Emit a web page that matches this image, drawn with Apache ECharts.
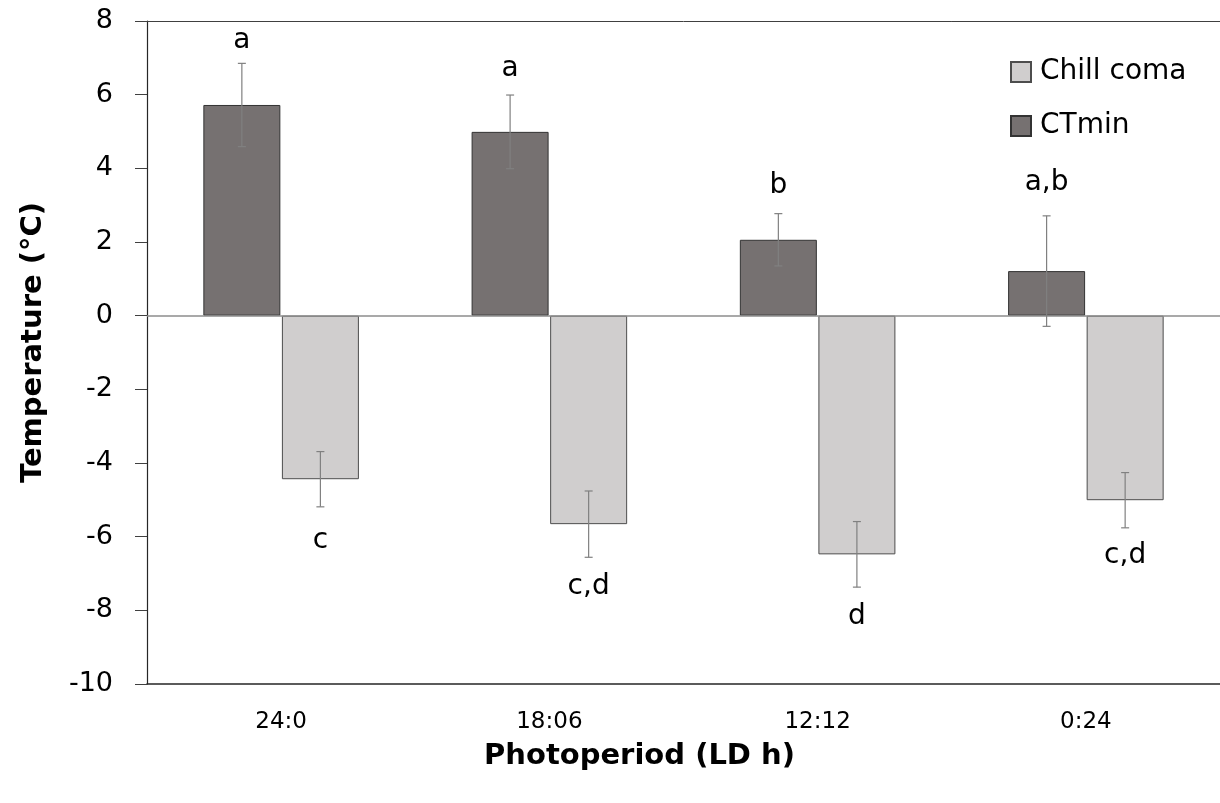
<!DOCTYPE html>
<html>
<head>
<meta charset="utf-8">
<script src="https://cdn.jsdelivr.net/npm/echarts@6/dist/echarts.min.js"></script>
<style>html,body{margin:0;padding:0;background:#fff}#c{width:1220px;height:803px}</style>
</head>
<body>
<div id="c"></div>
<script>
// ---- data ----
const categories = ['24:0', '18:06', '12:12', '0:24'];
const ctminValues = [5.72, 4.99, 2.06, 1.21];
const ctminErrors = [1.13, 1.00, 0.71, 1.50];
const chillValues = [-4.44, -5.66, -6.48, -5.01];
const chillErrors = [0.75, 0.90, 0.89, 0.75];
const ctminLetters = ['a', 'a', 'b', 'a,b'];
const ctminLetterY = [7.47, 6.71, 3.52, 3.61];
const chillLetters = ['c', 'c,d', 'd', 'c,d'];
const chillLetterY = [-6.10, -7.37, -8.18, -6.53];
const yTicks = { min: -10, max: 8, interval: 2 };

// ---- style ----
const BAR_W = 77;
const GAP_RATIO = 0.02;
const OFFSET = BAR_W * (1 + GAP_RATIO) / 2;
const FONT = 'DejaVu Sans';

const chart = echarts.init(document.getElementById('c'), null, { renderer: 'canvas' });

function errData(vals, errs) { return vals.map((v, i) => [i, v, errs[i]]); }
function letterData(ys, txt) { return ys.map((y, i) => [i, y, txt[i]]); }

function errRender(dir) {
  return function (params, api) {
    const i = api.value(0), v = api.value(1), e = api.value(2);
    const top = api.coord([i, v + e]);
    const bot = api.coord([i, v - e]);
    const x = top[0] + dir * OFFSET;
    const cap = 4;
    const st = { stroke: '#808080', lineWidth: 1.2 };
    return {
      type: 'group',
      children: [
        { type: 'line', shape: { x1: x, y1: top[1], x2: x, y2: bot[1] }, style: st },
        { type: 'line', shape: { x1: x - cap, y1: top[1], x2: x + cap, y2: top[1] }, style: st },
        { type: 'line', shape: { x1: x - cap, y1: bot[1], x2: x + cap, y2: bot[1] }, style: st }
      ]
    };
  };
}
function letterRender(dir) {
  return function (params, api) {
    const i = api.value(0), y = api.value(1);
    const p = api.coord([i, y]);
    const txt = (dir < 0 ? ctminLetters : chillLetters)[i];
    return {
      type: 'text',
      x: p[0] + dir * OFFSET, y: p[1],
      style: { text: txt, fontFamily: FONT, fontSize: 28, fill: '#000', align: 'center', verticalAlign: 'middle' }
    };
  };
}

const option = {
  backgroundColor: '#fff',
  animation: false,
  textStyle: { fontFamily: FONT },
  grid: { left: 147, right: 0, top: 21, bottom: 119, containLabel: false },
  legend: {
    data: ['Chill coma', 'CTmin'],
    orient: 'vertical',
    left: 1010, top: 58,
    itemWidth: 20, itemHeight: 20, itemGap: 26,
    padding: 0,
    icon: 'rect',
    textStyle: { fontFamily: FONT, fontSize: 28, color: '#000', padding: [0, 0, 0, 4] }
  },
  xAxis: [
    {
      type: 'category', data: categories, position: 'bottom',
      axisLine: { show: true, onZero: false, lineStyle: { color: '#262626', width: 1.5 } },
      axisTick: { show: false },
      axisLabel: { fontFamily: FONT, fontSize: 23, color: '#000', margin: 27 },
      name: 'Photoperiod (LD h)', nameLocation: 'middle', nameGap: 58,
      nameTextStyle: { fontFamily: FONT, fontSize: 29, fontWeight: 'bold', color: '#000', padding: [0, 88, 0, 0] }
    },
    {
      type: 'category', data: categories, position: 'top',
      axisLine: { show: true, onZero: false, lineStyle: { color: '#404040', width: 1 } },
      axisTick: { show: false }, axisLabel: { show: false }
    }
  ],
  yAxis: {
    type: 'value', min: yTicks.min, max: yTicks.max, interval: yTicks.interval,
    axisLine: { show: true, lineStyle: { color: '#262626', width: 1.2 } },
    axisTick: { show: true, inside: false, length: 12, lineStyle: { color: '#404040' } },
    splitLine: { show: false },
    axisLabel: { fontFamily: FONT, fontSize: 27, color: '#000', margin: 34 },
    name: 'Temperature (°C)', nameLocation: 'middle', nameGap: 99, nameRotate: 90,
    nameTextStyle: { fontFamily: FONT, fontSize: 29, fontWeight: 'bold', color: '#000', padding: [0, 0, 0, 20] }
  },
  series: [
    {
      name: 'CTmin', type: 'bar', data: ctminValues, barWidth: BAR_W, barGap: (GAP_RATIO * 100) + '%',
      itemStyle: { color: '#767171', borderColor: '#333333', borderWidth: 1 },
      markLine: {
        silent: true, symbol: 'none', label: { show: false },
        lineStyle: { color: '#8c8c8c', width: 1.5, type: 'solid' },
        data: [{ yAxis: 0 }]
      }
    },
    {
      name: 'Chill coma', type: 'bar', data: chillValues, barWidth: BAR_W,
      itemStyle: { color: '#d0cece', borderColor: '#4d4d4d', borderWidth: 1 }
    },
    { type: 'custom', renderItem: errRender(-1), data: errData(ctminValues, ctminErrors), z: 5, silent: true },
    { type: 'custom', renderItem: errRender(1), data: errData(chillValues, chillErrors), z: 5, silent: true },
    { type: 'custom', renderItem: letterRender(-1), data: letterData(ctminLetterY, ctminLetters), z: 6, silent: true },
    { type: 'custom', renderItem: letterRender(1), data: letterData(chillLetterY, chillLetters), z: 6, silent: true }
  ]
};
chart.setOption(option);
</script>
</body>
</html>
